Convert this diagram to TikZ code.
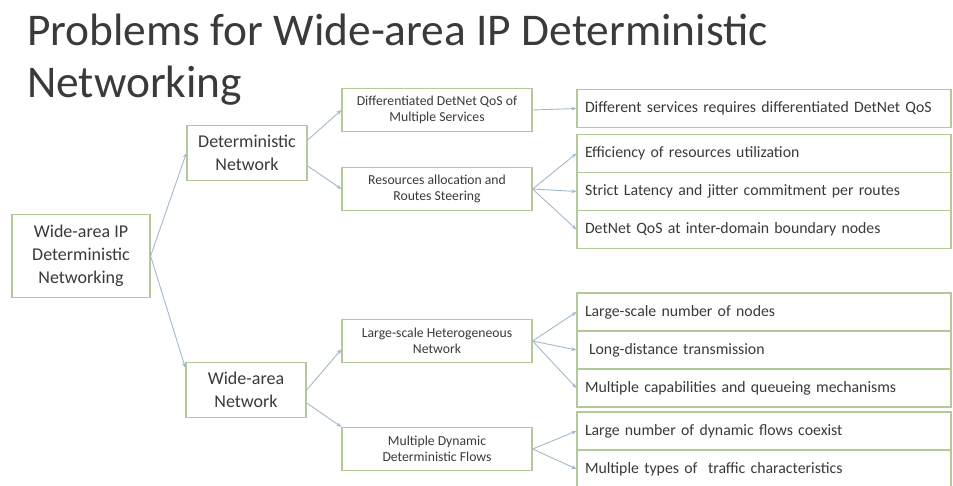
\documentclass[tikz,border=0pt]{standalone}
\usepackage{fontspec}
\setmainfont{Carlito}
\usetikzlibrary{arrows.meta,positioning}
\definecolor{boxgreen}{HTML}{B3C99A}
\definecolor{linkblue}{HTML}{A3B8CF}
\definecolor{textgray}{HTML}{3A3A3A}
\tikzset{
  rootbox/.style={draw=boxgreen,line width=1.2pt,fill=white,align=center,text=textgray,font=\fontsize{18}{23}\selectfont,minimum width=138pt,minimum height=83pt,inner sep=2pt},
  midbox/.style={rootbox,minimum width=120pt,minimum height=55pt},
  subbox/.style={draw=boxgreen,line width=1.2pt,fill=white,align=center,text=textgray,font=\fontsize{13.7}{16.5}\selectfont,minimum width=190pt,minimum height=43pt,inner sep=2pt},
  itembox/.style={draw=boxgreen,line width=1.2pt,fill=white,align=left,text=textgray,font=\fontsize{15.8}{18}\selectfont,text width=358pt,inner xsep=8pt,inner ysep=0pt,minimum height=38pt},
  link/.style={-{Stealth[length=5pt,width=4pt]},linkblue,line width=0.9pt}
}

\begin{document}
\begin{tikzpicture}[x=1pt,y=-1pt]
\useasboundingbox (0,0) rectangle (953,485);
\node[anchor=base west,align=left,inner sep=0pt,text=textgray,font=\fontsize{45.4}{52}\selectfont] (title) at (27,97) {Problems for Wide-area IP Deterministic\\Networking};

\node[rootbox] (root) at (81,256) {Wide-area IP\\Deterministic\\Networking};
\node[midbox] (detnet) at (247,153) {Deterministic\\Network};
\node[midbox] (widenet) at (246,390) {Wide-area\\Network};

\node[subbox] (diffqos) at (437,110) {Differentiated DetNet QoS of\\Multiple Services};
\node[subbox] (resalloc) at (437,189) {Resources allocation and\\Routes Steering};
\node[subbox] (hetnet) at (437,341) {Large-scale Heterogeneous\\Network};
\node[subbox] (dynflows) at (437,449) {Multiple Dynamic\\Deterministic Flows};

\node[itembox] (diffsvc) at (764,108.5) {Different services requires differentiated DetNet QoS};
\node[itembox] (effic) at (764,153.5) {Efficiency of resources utilization};
\node[itembox] (latency) at (764,191.5) {Strict Latency and jitter commitment per routes};
\node[itembox] (interdom) at (764,229.5) {DetNet QoS at inter-domain boundary nodes};
\node[itembox] (scale) at (764,312) {Large-scale number of nodes};
\node[itembox] (longdist) at (764,350) {\hspace*{4pt}Long-distance transmission};
\node[itembox] (queue) at (764,388) {Multiple capabilities and queueing mechanisms};
\node[itembox] (coexist) at (764,431) {Large number of dynamic flows coexist};
\node[itembox] (traffic) at (764,469) {Multiple types of\ \ traffic characteristics};

\draw[link] (root.east) -- (detnet.west);
\draw[link] (root.east) -- (widenet.160);
\draw[link] (detnet.12) -- (diffqos.west);
\draw[link] (detnet.348) -- (resalloc.west);
\draw[link] (widenet.east) -- (hetnet.185);
\draw[link] (widenet.348) -- (dynflows.north west);
\draw[link] (diffqos.east) -- (diffsvc.west);
\draw[link] (resalloc.east) -- (effic.west);
\draw[link] (resalloc.east) -- (latency.west);
\draw[link] (resalloc.east) -- (interdom.west);
\draw[link] (hetnet.east) -- (scale.west);
\draw[link] (hetnet.east) -- (longdist.west);
\draw[link] (hetnet.east) -- (queue.west);
\draw[link] (dynflows.east) -- (coexist.west);
\draw[link] (dynflows.east) -- (traffic.west);
\end{tikzpicture}
\end{document}
